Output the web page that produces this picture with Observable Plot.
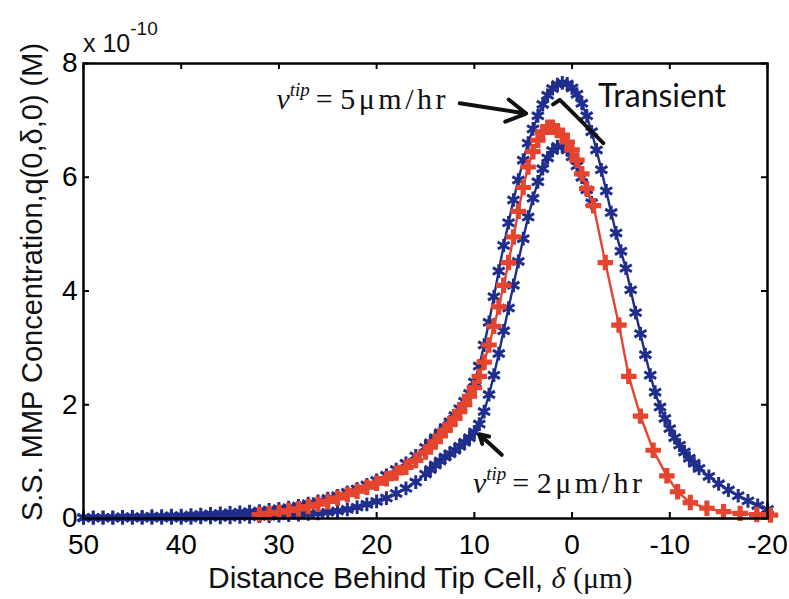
<!DOCTYPE html>
<html><head><meta charset="utf-8">
<script src="https://cdn.jsdelivr.net/npm/d3@7"></script>
<script src="https://cdn.jsdelivr.net/npm/@observablehq/plot@0.6"></script>
<style>body{margin:0;background:#fff}svg{display:block}</style>
</head><body><div id="chart"></div>
<script>
// ---- data (δ in µm, q in units of 1e-10 M) ----
const deltaV5 = [50,49,48,47,46,45,44,43,42,41,40,39,38,37,36,35,34,33,32,31,30,29,28,27,26,25,24,23,22,21,20,19,18,17,16,15,
 14.5,14,13.5,13,12.5,12,11.5,11,10.5,10,9.5,9,8.5,8,7.5,7,6.5,6,5.5,5,4.5,4,3.5,3,2.5,2,1.5,1,0.5,0,-0.5,-1,-1.5,-2,-2.5,-3,-3.5,-4,-4.5,-5,-5.5,-6,-6.5,-7,-7.5,-8,-8.5,-9,-9.5,-10,-10.5,-11,-11.5,-12,-12.5,
 -13,-14,-15,-16,-17,-18,-19,-20];
const qV5 = [0.02,0.02,0.02,0.02,0.03,0.03,0.03,0.04,0.04,0.05,0.05,0.06,0.07,0.08,0.09,0.10,0.11,0.12,0.13,0.15,0.17,0.19,0.22,0.26,0.30,0.35,0.40,0.46,0.52,0.59,0.67,0.76,0.86,0.97,1.10,1.25,
 1.33,1.42,1.51,1.60,1.70,1.81,1.93,2.06,2.20,2.40,2.68,3.05,3.45,3.90,4.35,4.80,5.20,5.60,5.95,6.30,6.60,6.85,7.08,7.28,7.44,7.56,7.63,7.66,7.64,7.57,7.46,7.30,7.08,6.80,6.48,6.13,5.76,5.38,5.02,4.70,4.40,4.02,3.62,3.25,2.88,2.52,2.22,1.96,1.76,1.58,1.42,1.29,1.17,1.06,0.97,
 0.88,0.74,0.61,0.50,0.40,0.31,0.23,0.16];

const deltaV2 = [50,49,48,47,46,45,44,43,42,41,40,39,38,37,36,35,34,33,32,31,30,29,28,27,26,25,24,23,22,21,20,19,18,17,16,15,
 14.5,14,13.5,13,12.5,12,11.5,11,10.5,10,9.5,9,8.5,8,7.5,7,6.5,6,5.5,5,4.5,4,3.5,3,2.5,2,1.5,1,0.5,0,-0.5,-1,-1.5,-2];
const qV2 = [0.01,0.01,0.01,0.01,0.01,0.01,0.01,0.01,0.01,0.01,0.01,0.01,0.02,0.02,0.02,0.02,0.03,0.03,0.04,0.04,0.05,0.06,0.07,0.08,0.09,0.11,0.13,0.16,0.20,0.25,0.30,0.36,0.44,0.53,0.64,0.78,
 0.86,0.94,1.01,1.08,1.14,1.20,1.27,1.34,1.42,1.52,1.66,1.88,2.18,2.52,2.90,3.30,3.70,4.10,4.52,4.92,5.30,5.63,5.92,6.15,6.34,6.47,6.54,6.55,6.48,6.36,6.20,6.00,5.78,5.55];

const deltaTransient = [32,31,30,29,28,27,26,25,24,23,22,21,20,19,18,17,16,15,
 14.5,14,13.5,13,12.5,12,11.5,11,10.5,10,9.5,9,8.5,8,7.5,7,6.5,6,5.5,5,4.5,4,3.5,3,2.5,2,1.5,1,0.5,0,-0.5,-1,-1.5,
 -2.2,-3.4,-4.8,-5.8,-7,-8.3,-9.7,-10.8,-12.1,-13.8,-15.5,-17.2,-18.9,-20.3];
const qTransient = [0.07,0.09,0.11,0.14,0.17,0.21,0.25,0.30,0.36,0.42,0.48,0.55,0.62,0.70,0.80,0.90,1.02,1.17,
 1.26,1.35,1.45,1.55,1.65,1.76,1.88,2.00,2.15,2.30,2.50,2.75,3.05,3.38,3.72,4.10,4.50,4.95,5.40,5.82,6.18,6.45,6.65,6.80,6.88,6.88,6.82,6.74,6.62,6.48,6.30,6.06,5.80,
 5.50,4.50,3.40,2.50,1.80,1.20,0.75,0.47,0.28,0.18,0.12,0.09,0.07,0.06];

const xTicks = [50,40,30,20,10,0,-10,-20];
const yTicks = [0,2,4,6,8];

// annotations (data coordinates)
const arrow5 = [{x1: 11.5, y1: 7.30, x2: 4.7, y2: 7.12}];
const arrow2 = [{x1: 7.2, y1: 1.12, x2: 9.5, y2: 1.48}];
const transientLeader = [{x: 1.95, y: 7.28}, {x: 1.25, y: 7.36}, {x: -3.2, y: 6.6}];
const labelV5 = {x: 30.2, y: 7.2, speed: "5"};
const labelV2 = {x: 10.1, y: 0.44, speed: "2"};
const labelTransient = {x: -2.7, y: 7.23, text: "Transient"};

const BLUE = "#1f2e8c", RED = "#e5452f";
const zip = (xs, ys) => xs.map((x, i) => ({x, y: ys[i]}));
const v5 = zip(deltaV5, qV5), v2 = zip(deltaV2, qV2), tr = zip(deltaTransient, qTransient);

const W = 789, H = 599, ML = 83, MR = 22, MT = 63, MB = 81;
const innerW = W - ML - MR, innerH = H - MT - MB;

const chart = Plot.plot({
  width: W, height: H,
  marginLeft: ML, marginRight: MR, marginTop: MT, marginBottom: MB,
  style: {fontFamily: "Liberation Sans, Arial, sans-serif", fontSize: "28px", color: "black", background: "white"},
  x: {domain: [50, -20]},
  y: {domain: [0, 8]},
  marks: [
    Plot.axisX(xTicks, {tickSize: 0, tickPadding: 16, label: null, fontSize: 28, tickFormat: d => String(d)}),
    Plot.axisY(yTicks, {tickSize: 0, tickPadding: 6, label: null, fontSize: 28, tickFormat: d => String(d)}),
    Plot.ruleX(xTicks, {x: d => d, insetTop: innerH - 6, stroke: "black", strokeWidth: 2}),
    Plot.ruleX(xTicks, {x: d => d, insetBottom: innerH - 6, stroke: "black", strokeWidth: 2}),
    Plot.ruleY(yTicks, {y: d => d, insetRight: innerW - 6, stroke: "black", strokeWidth: 2}),
    Plot.ruleY(yTicks, {y: d => d, insetLeft: innerW - 6, stroke: "black", strokeWidth: 2}),
    Plot.line(v5, {x: "x", y: "y", stroke: BLUE, strokeWidth: 2.4}),
    Plot.dot(v5, {x: "x", y: "y", symbol: "asterisk", r: 6.5, stroke: BLUE, strokeWidth: 3}),
    Plot.line(v2, {x: "x", y: "y", stroke: BLUE, strokeWidth: 2.4}),
    Plot.dot(v2, {x: "x", y: "y", symbol: "asterisk", r: 6.5, stroke: BLUE, strokeWidth: 3}),
    Plot.line(tr, {x: "x", y: "y", stroke: RED, strokeWidth: 2.4}),
    Plot.dot(tr, {x: "x", y: "y", symbol: "cross", r: 6.5, fill: RED, stroke: "none"}),
    Plot.frame({stroke: "black", strokeWidth: 2.5}),
    Plot.arrow(arrow5, {x1: "x1", y1: "y1", x2: "x2", y2: "y2", stroke: "#111", strokeWidth: 4, headLength: 14, headAngle: 60}),
    Plot.arrow(arrow2, {x1: "x1", y1: "y1", x2: "x2", y2: "y2", stroke: "#111", strokeWidth: 4, headLength: 12, headAngle: 60}),
    Plot.line(transientLeader, {x: "x", y: "y", stroke: "#111", strokeWidth: 4})
  ]
});
document.getElementById("chart").appendChild(chart);

const X = chart.scale("x"), Y = chart.scale("y");
const svg = d3.select(chart);

function speedLabel(d) {
  const t = svg.append("text")
    .attr("x", X.apply(d.x)).attr("y", Y.apply(d.y))
    .attr("text-anchor", "start")
    .attr("font-family", "Liberation Serif, Times New Roman, serif")
    .attr("font-size", 30).attr("fill", "#111");
  t.append("tspan").attr("font-style", "italic").text("v");
  t.append("tspan").attr("font-style", "italic").attr("font-size", 19).attr("dy", -13).text("tip");
  t.append("tspan").attr("dy", 13).attr("dx", 6).text("= ");
  t.append("tspan").attr("letter-spacing", 3.5).text(d.speed + "μm/hr");
}
speedLabel(labelV5);
speedLabel(labelV2);

svg.append("text")
  .attr("x", X.apply(labelTransient.x)).attr("y", Y.apply(labelTransient.y))
  .attr("text-anchor", "start")
  .attr("font-family", "Lato, Open Sans, sans-serif").attr("font-size", 32).attr("fill", "#111")
  .text(labelTransient.text);

// exponent label
const ex = svg.append("text").attr("x", ML).attr("y", 52)
  .attr("text-anchor", "start")
  .attr("font-family", "Liberation Sans, Arial, sans-serif").attr("font-size", 25).attr("fill", "#111");
ex.append("tspan").text("x 10");
ex.append("tspan").attr("font-size", 19).attr("dy", -17).text("-10");

// x axis label
const xl = svg.append("text").attr("x", 208).attr("y", 588)
  .attr("text-anchor", "start")
  .attr("font-family", "Liberation Sans, Arial, sans-serif").attr("font-size", 30).attr("fill", "#111");
xl.append("tspan").text("Distance Behind Tip Cell, ");
xl.append("tspan").attr("font-family", "Liberation Serif, serif").attr("font-style", "italic").text("δ");
xl.append("tspan").attr("font-family", "Liberation Serif, serif").text(" (μm)");

// y axis label
svg.append("text")
  .attr("transform", "translate(42,282) rotate(-90)")
  .attr("text-anchor", "middle")
  .attr("font-family", "Liberation Sans, Arial, sans-serif").attr("font-size", 29).attr("fill", "#111")
  .text("S.S. MMP Concentration,q(0,δ,0) (M)");
</script>
</body></html>
